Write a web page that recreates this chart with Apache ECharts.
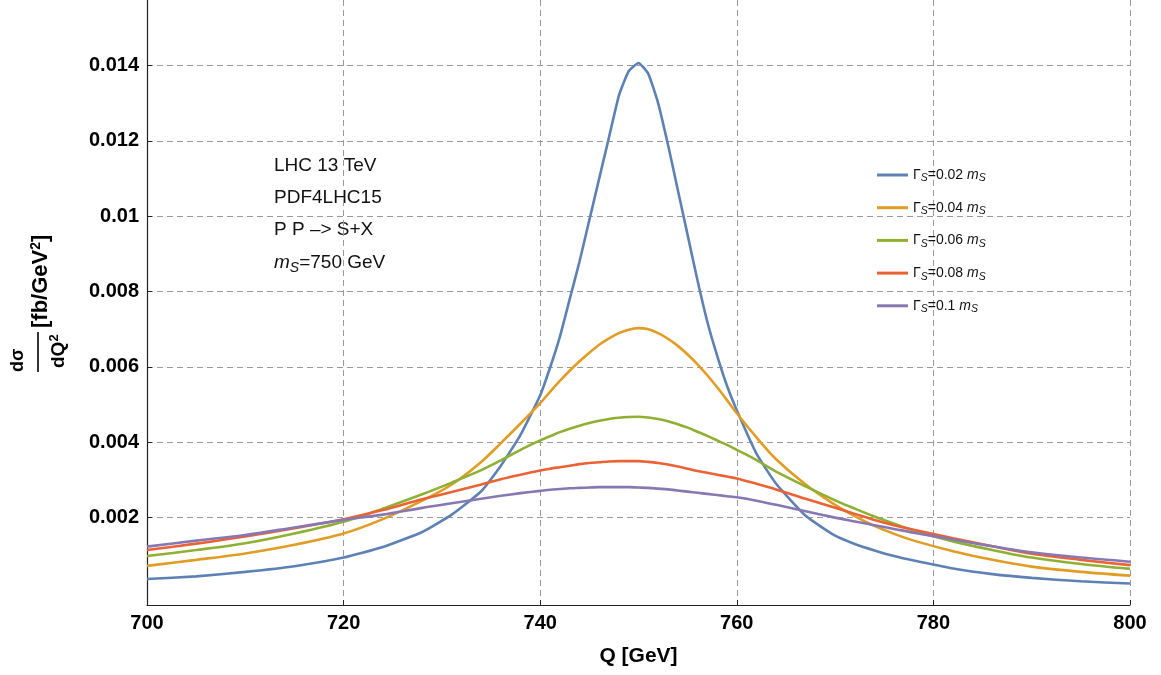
<!DOCTYPE html>
<html>
<head>
<meta charset="utf-8">
<script src="https://cdn.jsdelivr.net/npm/echarts@6/dist/echarts.min.js"></script>
<style>
html,body{margin:0;padding:0;background:#fff;}
#chart{width:1161px;height:675px;}
</style>
</head>
<body>
<div id="chart"></div>
<script>
// Q values (GeV)
const Q = [700,705,710,715,720,724,728,731,734,736,738,740,741,742,743,744,745,746,747,748,749,750,751,752,753,754,755,756,757,758,759,760,762,764,767,770,772,774,776,778,782,786,790,795,800];
// dsigma/dQ^2 [fb/GeV^2] for each width
const g002 = [0.00037,0.00044,0.00056,0.00071,0.00094,0.00122,0.00162,0.00208,0.0027,0.00338,0.0042,0.00525,0.00598,0.0068,0.0078,0.0088,0.0099,0.0110,0.0121,0.0132,0.01385,0.01407,0.01378,0.0130,0.0119,0.0107,0.0095,0.0083,0.0072,0.0063,0.0055,0.00485,0.0037,0.0029,0.00205,0.00152,0.0013,0.00113,0.00098,0.00086,0.00065,0.0005,0.0004,0.00031,0.00025];
const g004 = [0.00072,0.00088,0.00105,0.00128,0.00158,0.00196,0.00245,0.00288,0.00348,0.00398,0.0045,0.00504,0.00534,0.00563,0.0059,0.00615,0.00638,0.00659,0.00676,0.0069,0.00699,0.00703,0.007,0.0069,0.00675,0.00656,0.00633,0.00607,0.00578,0.00546,0.00512,0.00477,0.00413,0.00355,0.00288,0.00234,0.00204,0.00178,0.00157,0.00139,0.00111,0.00088,0.0007,0.00056,0.00046];
const g006 = [0.00098,0.00114,0.00132,0.00158,0.00189,0.00224,0.00262,0.00293,0.00326,0.00352,0.0038,0.00405,0.00416,0.00427,0.00436,0.00444,0.00451,0.00457,0.00462,0.00465,0.00467,0.00468,0.00466,0.00462,0.00456,0.00448,0.00439,0.00428,0.00417,0.00405,0.00393,0.0038,0.00353,0.00322,0.00283,0.00246,0.00224,0.00203,0.00184,0.00166,0.00137,0.00114,0.00094,0.00077,0.00064];
const g008 = [0.00114,0.00131,0.0015,0.00172,0.00196,0.0022,0.00249,0.00268,0.00288,0.00302,0.00314,0.00325,0.0033,0.00334,0.00338,0.00342,0.00345,0.00347,0.00349,0.0035,0.0035,0.0035,0.00348,0.00345,0.00341,0.00336,0.0033,0.00324,0.00319,0.00314,0.00309,0.00304,0.0029,0.00275,0.0025,0.00226,0.0021,0.00194,0.0018,0.00168,0.00145,0.00124,0.00104,0.00088,0.00074];
const g010 = [0.00123,0.00139,0.00154,0.00174,0.00194,0.00208,0.00226,0.00238,0.0025,0.00258,0.00265,0.00271,0.00274,0.00276,0.00278,0.00279,0.0028,0.00281,0.00281,0.00281,0.00281,0.0028,0.00279,0.00277,0.00275,0.00272,0.00269,0.00266,0.00263,0.0026,0.00257,0.00254,0.00245,0.00234,0.00217,0.002,0.0019,0.0018,0.0017,0.0016,0.00142,0.00124,0.00108,0.00094,0.00083];
const widths = ['0.02','0.04','0.06','0.08','0.1'];
const seriesValues = [g002,g004,g006,g008,g010];
const colors = ['#5E81B5','#E19C24','#8FB032','#EB6235','#8778B3'];
const yTicks = [0.002,0.004,0.006,0.008,0.01,0.012,0.014];
const noteLines = ['LHC 13 TeV','PDF4LHC15','P P \u2013> S+X'];

const FONT = '"Liberation Sans", Arial, Helvetica, sans-serif';
const chart = echarts.init(document.getElementById('chart'), null, {renderer:'canvas'});

const series = seriesValues.map((vals, k) => ({
  name: '\u0393S=' + widths[k] + ' mS',
  type: 'line',
  data: Q.map((q, i) => [q, vals[i]]),
  showSymbol: false,
  smooth: k === 0 ? 0.15 : 0.3,
  lineStyle: {color: colors[k], width: 2.6},
  itemStyle: {color: colors[k]},
  emphasis: {disabled: true}
}));

const gridLine = {show: true, lineStyle: {color: '#9a9a9a', width: 1, type: [6, 4]}};

chart.setOption({
  animation: false,
  color: colors,
  grid: {left: 147, right: 31, top: 0, bottom: 70, containLabel: false},
  xAxis: {
    type: 'value', min: 700, max: 800, interval: 20,
    axisLine: {show: true, onZero: false, lineStyle: {color: '#222', width: 1.2}},
    axisTick: {show: true, inside: true, length: 5, lineStyle: {color: '#222'}},
    axisLabel: {margin: 8, fontSize: 20, fontWeight: 'bold', color: '#000', fontFamily: FONT},
    splitLine: gridLine,
    name: 'Q [GeV]', nameLocation: 'middle', nameGap: 41,
    nameTextStyle: {fontSize: 21, fontWeight: 'bold', color: '#000', fontFamily: FONT}
  },
  yAxis: {
    type: 'value', min: -0.000319, max: 0.015742,
    axisLine: {show: true, onZero: false, lineStyle: {color: '#222', width: 1.2}},
    axisTick: {show: true, inside: true, length: 5, customValues: yTicks, lineStyle: {color: '#222'}},
    axisLabel: {margin: 8, fontSize: 20, fontWeight: 'bold', color: '#000', fontFamily: FONT,
      customValues: yTicks, formatter: v => String(+v.toFixed(4))},
    splitLine: Object.assign({customValues: yTicks}, gridLine)
  },
  legend: {
    orient: 'vertical', left: 872, top: 163,
    icon: 'rect', itemWidth: 31, itemHeight: 3, itemGap: 16.7,
    data: series.map(s => s.name),
    formatter: function (name) {
      const k = series.findIndex(s => s.name === name);
      return '{g|\u0393}{s|S}{t|=' + widths[k] + ' }{i|m}{s|S}';
    },
    textStyle: {
      color: '#111', fontFamily: FONT, padding: [0,0,0,0],
      rich: {
        g: {fontSize: 14, lineHeight: 18, fontFamily: FONT, color: '#111'},
        t: {fontSize: 14, lineHeight: 18, fontFamily: FONT, color: '#111'},
        i: {fontSize: 14, lineHeight: 18, fontStyle: 'italic', fontFamily: FONT, color: '#111'},
        s: {fontSize: 10.5, lineHeight: 10, fontStyle: 'italic', verticalAlign: 'bottom', fontFamily: FONT, color: '#111'}
      }
    }
  },
  graphic: [
    {type: 'text', x: 274, y: 166, style: {text: noteLines[0], font: '19px ' + FONT, fill: '#111', textVerticalAlign: 'middle', verticalAlign: 'middle'}},
    {type: 'text', x: 274, y: 198, style: {text: noteLines[1], font: '19px ' + FONT, fill: '#111', textVerticalAlign: 'middle', verticalAlign: 'middle'}},
    {type: 'text', x: 274, y: 230, style: {text: noteLines[2], font: '19px ' + FONT, fill: '#111', textVerticalAlign: 'middle', verticalAlign: 'middle'}},
    {type: 'text', x: 274, y: 263, style: {
      text: '{i|m}{s|S}{t|=750 GeV}', fill: '#111', textVerticalAlign: 'middle', verticalAlign: 'middle',
      rich: {
        i: {font: 'italic 19px ' + FONT, lineHeight: 24, fill: '#111'},
        t: {font: '19px ' + FONT, lineHeight: 24, fill: '#111'},
        s: {font: 'italic 14px ' + FONT, lineHeight: 14, verticalAlign: 'bottom', fill: '#111'}
      }}},
    {type: 'group', x: 38, y: 372, rotation: Math.PI / 2, children: [
      {type: 'line', shape: {x1: 0, y1: 0, x2: 40, y2: 0}, style: {stroke: '#000', lineWidth: 1.6}},
      {type: 'text', x: 0, y: -20, style: {text: 'd\u03C3', font: 'bold 18px ' + FONT, fill: '#000',
        textAlign: 'left', align: 'left', textVerticalAlign: 'middle', verticalAlign: 'middle'}},
      {type: 'text', x: 4, y: 21, style: {text: '{t|dQ}{p|2}', fill: '#000',
        textAlign: 'left', align: 'left', textVerticalAlign: 'middle', verticalAlign: 'middle',
        rich: {t: {font: 'bold 19px ' + FONT, lineHeight: 22, fill: '#000'},
               p: {font: 'bold 13px ' + FONT, lineHeight: 12, verticalAlign: 'top', fill: '#000'}}}},
      {type: 'text', x: 44, y: 3, style: {text: '{t|[fb/GeV}{p|2}{t|]}', fill: '#000',
        textAlign: 'left', align: 'left', textVerticalAlign: 'middle', verticalAlign: 'middle',
        rich: {t: {font: 'bold 22px ' + FONT, lineHeight: 24, fill: '#000'},
               p: {font: 'bold 14px ' + FONT, lineHeight: 13, verticalAlign: 'top', fill: '#000'}}}}
    ]}
  ],
  series: series
});
</script>
</body>
</html>
